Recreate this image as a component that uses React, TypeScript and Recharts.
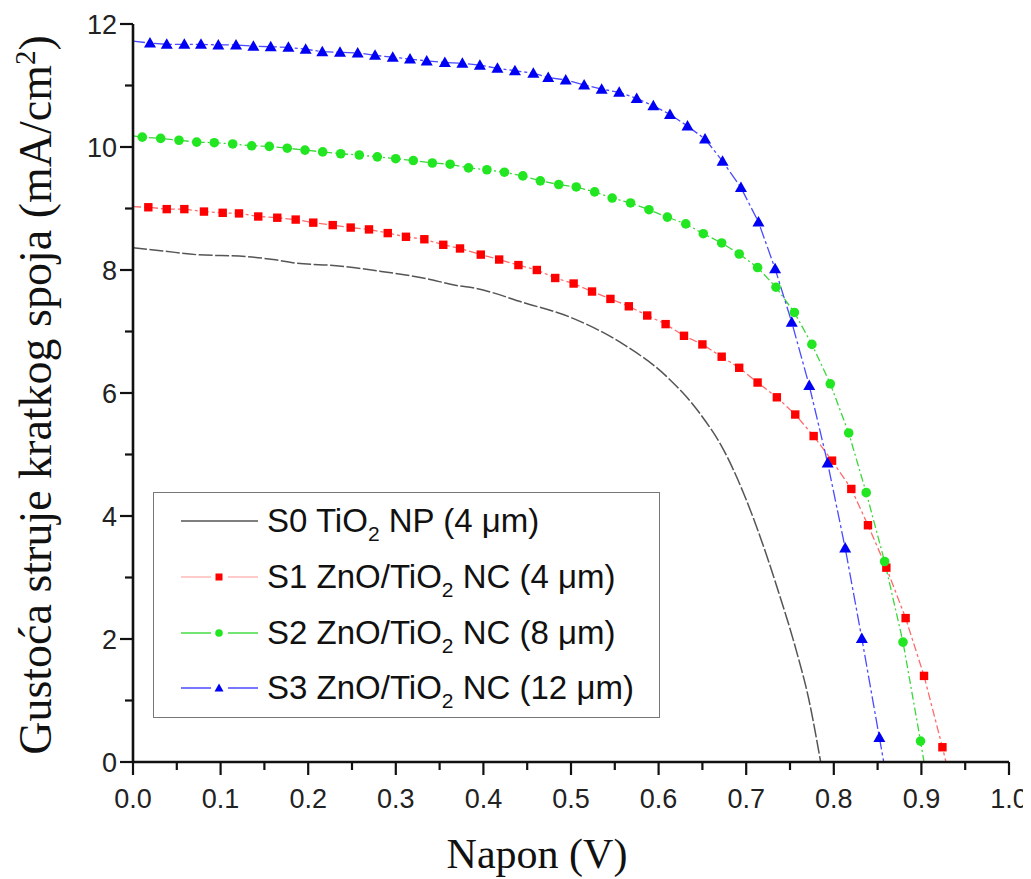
import React from 'react';
import { LineChart, Line, XAxis, YAxis, Legend } from 'recharts';

// ---- Data ----
const s0V = [0, 0.034, 0.072, 0.129, 0.16, 0.187, 0.232, 0.282, 0.331, 0.373, 0.388, 0.446, 0.503, 0.56, 0.609, 0.647, 0.674, 0.697, 0.716, 0.735, 0.758, 0.771, 0.785];
const s0J = [8.36, 8.31, 8.25, 8.22, 8.17, 8.11, 8.07, 7.98, 7.87, 7.74, 7.71, 7.47, 7.21, 6.79, 6.27, 5.67, 5.08, 4.37, 3.66, 2.85, 1.77, 1.05, 0];

const s1V = [0.0175, 0.0385, 0.0586, 0.081, 0.1024, 0.121, 0.143, 0.1647, 0.1857, 0.2058, 0.228, 0.2485, 0.2694, 0.2908, 0.3116, 0.3326, 0.3542, 0.3733, 0.397, 0.418, 0.44, 0.461, 0.482, 0.503, 0.524, 0.545, 0.566, 0.587, 0.608, 0.629, 0.65, 0.672, 0.692, 0.713, 0.735, 0.756, 0.777, 0.798, 0.82, 0.839, 0.86, 0.882, 0.903, 0.924];
const s1J = [9.02, 8.99, 8.99, 8.95, 8.93, 8.92, 8.87, 8.85, 8.82, 8.77, 8.73, 8.69, 8.66, 8.6, 8.54, 8.5, 8.41, 8.35, 8.25, 8.17, 8.08, 8.0, 7.87, 7.78, 7.65, 7.53, 7.41, 7.26, 7.12, 6.93, 6.79, 6.59, 6.41, 6.17, 5.93, 5.65, 5.3, 4.9, 4.44, 3.85, 3.16, 2.34, 1.4, 0.24];
const s1Ends = [[0, 9.03], [0.928, 0]];

const s2V = [0.0106, 0.0316, 0.0525, 0.0727, 0.0928, 0.1138, 0.1355, 0.1556, 0.1761, 0.1963, 0.2165, 0.2371, 0.2583, 0.2789, 0.2999, 0.32, 0.3417, 0.362, 0.383, 0.404, 0.424, 0.445, 0.465, 0.486, 0.506, 0.527, 0.547, 0.568, 0.589, 0.61, 0.631, 0.651, 0.672, 0.692, 0.713, 0.734, 0.755, 0.775, 0.796, 0.817, 0.837, 0.858, 0.879, 0.899];
const s2J = [10.16, 10.14, 10.11, 10.08, 10.07, 10.05, 10.02, 10.01, 9.98, 9.95, 9.92, 9.89, 9.87, 9.84, 9.81, 9.78, 9.74, 9.72, 9.66, 9.63, 9.59, 9.53, 9.45, 9.39, 9.35, 9.27, 9.17, 9.09, 8.98, 8.86, 8.75, 8.59, 8.44, 8.26, 8.04, 7.72, 7.31, 6.79, 6.15, 5.35, 4.38, 3.26, 1.95, 0.34];
const s2Ends = [[0, 10.18], [0.903, 0]];

const s3V = [0.0194, 0.0385, 0.0586, 0.0776, 0.0974, 0.1176, 0.1374, 0.1572, 0.1774, 0.1971, 0.2161, 0.2363, 0.2565, 0.2763, 0.2965, 0.3162, 0.3353, 0.356, 0.376, 0.396, 0.416, 0.436, 0.457, 0.474, 0.494, 0.515, 0.535, 0.555, 0.575, 0.594, 0.613, 0.633, 0.653, 0.673, 0.694, 0.714, 0.733, 0.752, 0.772, 0.793, 0.813, 0.832, 0.852];
const s3J = [11.69, 11.67, 11.67, 11.67, 11.66, 11.66, 11.64, 11.63, 11.62, 11.59, 11.55, 11.54, 11.53, 11.49, 11.46, 11.43, 11.4, 11.375, 11.36, 11.33, 11.28, 11.24, 11.2, 11.13, 11.09, 11.01, 10.94, 10.89, 10.79, 10.67, 10.53, 10.34, 10.13, 9.77, 9.34, 8.78, 8.02, 7.15, 6.12, 4.86, 3.48, 2.01, 0.4];
const s3Ends = [[0, 11.72], [0.857, 0]];

const xTicks = [0, 0.05, 0.1, 0.15, 0.2, 0.25, 0.3, 0.35, 0.4, 0.45, 0.5, 0.55, 0.6, 0.65, 0.7, 0.75, 0.8, 0.85, 0.9, 0.95, 1.0];
const yTicks = [0, 1, 2, 3, 4, 5, 6, 7, 8, 9, 10, 11, 12];

const seriesNames = ['S0 TiO|2| NP (4 μm)', 'S1 ZnO/TiO|2| NC (4 μm)', 'S2 ZnO/TiO|2| NC (8 μm)', 'S3 ZnO/TiO|2| NC (12 μm)'];

// ---- Build series tables ----
const buildMarked = (vs: number[], js: number[], ends: number[][]) => [
  { v: ends[0][0], j: ends[0][1], m: false },
  ...vs.map((v, i) => ({ v, j: js[i], m: true })),
  { v: ends[1][0], j: ends[1][1], m: false },
];
const s0Data = s0V.map((v, i) => ({ v, j: s0J[i] }));
const s1Data = buildMarked(s1V, s1J, s1Ends);
const s2Data = buildMarked(s2V, s2J, s2Ends);
const s3Data = buildMarked(s3V, s3J, s3Ends);

const SANS = '"Liberation Sans", Arial, sans-serif';
const SERIF = '"Liberation Serif", "Times New Roman", serif';
const AX = '#111';

const RED = '#ff0000';
const GREEN = '#22e622';
const BLUE = '#0000f5';

const squareDot = (p: any) =>
  p.payload && p.payload.m ? (
    <rect key={`s${p.index}`} x={p.cx - 4.2} y={p.cy - 4.2} width={8.4} height={8.4} fill={RED} />
  ) : (
    <g key={`s${p.index}`} />
  );
const circleDot = (p: any) =>
  p.payload && p.payload.m ? <circle key={`c${p.index}`} cx={p.cx} cy={p.cy} r={4.8} fill={GREEN} /> : <g key={`c${p.index}`} />;
const triDot = (p: any) =>
  p.payload && p.payload.m ? (
    <path key={`t${p.index}`} d={`M${p.cx},${p.cy - 6} L${p.cx + 6},${p.cy + 4.5} L${p.cx - 6},${p.cy + 4.5} Z`} fill={BLUE} />
  ) : (
    <g key={`t${p.index}`} />
  );

const isMajorX = (v: number) => Math.round(v * 100) % 10 === 0;
const isMajorY = (v: number) => Math.round(v) % 2 === 0;

const XTickBottom = (props: any) => {
  const { x, y, payload } = props;
  const v = payload.value;
  const major = isMajorX(v);
  return (
    <g>
      <line x1={x} x2={x} y1={y} y2={y + (major ? 13 : 8)} stroke={AX} strokeWidth={2.2} />
      {major && (
        <text x={x} y={y + 46} textAnchor="middle" fontSize={27} fontFamily={SANS} fill="#222">
          {v.toFixed(1)}
        </text>
      )}
    </g>
  );
};
const XTickTop = (props: any) => {
  const { x, y, payload } = props;
  const major = isMajorX(payload.value);
  return <line x1={x} x2={x} y1={y} y2={y + (major ? 14 : 8)} stroke={AX} strokeWidth={2.2} />;
};
const YTickLeft = (props: any) => {
  const { x, y, payload } = props;
  const v = payload.value;
  const major = isMajorY(v);
  return (
    <g>
      <line x1={x - (major ? 13 : 8)} x2={x} y1={y} y2={y} stroke={AX} strokeWidth={2.2} />
      {major && (
        <text x={x - 16} y={y + 10} textAnchor="end" fontSize={27} fontFamily={SANS} fill="#222">
          {String(v)}
        </text>
      )}
    </g>
  );
};
const YTickRight = (props: any) => {
  const { x, y, payload } = props;
  const major = isMajorY(payload.value);
  return <line x1={x - (major ? 14 : 8)} x2={x} y1={y} y2={y} stroke={AX} strokeWidth={2.2} />;
};

const XTitle = () => (
  <text x={529} y={860} textAnchor="middle" fontSize={42} fontFamily={SERIF} fill="#111">
    Napon (V)
  </text>
);
const YTitle = () => (
  <text x={43} y={387} textAnchor="middle" fontSize={46} fontFamily={SERIF} fill="#111" transform="rotate(-90 43 387)">
    <tspan>Gustoća struje kratkog spoja (mA/cm</tspan>
    <tspan dy={-16} fontSize={29}>2</tspan>
    <tspan dy={16}>)</tspan>
  </text>
);

const renderName = (name: string) => {
  const parts = name.split('|');
  return (
    <span>
      {parts[0]}
      <span style={{ fontSize: 21, position: 'relative', top: 9 }}>{parts[1]}</span>
      {parts[2]}
    </span>
  );
};

const LegendSample = ({ idx }: { idx: number }) => {
  if (idx === 0) {
    return (
      <svg width={110} height={40} style={{ position: 'absolute', left: 0, top: 0 }}>
        <line x1={27} x2={104} y1={20} y2={20} stroke="#555" strokeWidth={1.5} />
      </svg>
    );
  }
  const col = idx === 1 ? '#ffb8b8' : idx === 2 ? '#44dd44' : '#4848ff';
  return (
    <svg width={110} height={40} style={{ position: 'absolute', left: 0, top: 0 }}>
      <line x1={27} x2={57} y1={20} y2={20} stroke={col} strokeWidth={1.5} />
      <line x1={74} x2={104} y1={20} y2={20} stroke={col} strokeWidth={1.5} />
      {idx === 1 && <rect x={61.5} y={16.5} width={7} height={7} fill={RED} />}
      {idx === 2 && <circle cx={65} cy={20} r={3.8} fill={GREEN} />}
      {idx === 3 && <path d="M65,15.5 L69.5,23.5 L60.5,23.5 Z" fill={BLUE} />}
    </svg>
  );
};

const rowCenters = [28, 84, 139.5, 195];

const LegendBox = () => (
  <div
    style={{
      position: 'relative',
      width: 507,
      height: 226,
      border: '1.6px solid #777',
      boxSizing: 'border-box',
      background: '#fff',
      fontFamily: SANS,
      fontSize: 33,
      color: '#111',
    }}
  >
    {seriesNames.map((n, i) => (
      <div key={i} style={{ position: 'absolute', left: 0, top: rowCenters[i] - 20, height: 40, width: 505 }}>
        <LegendSample idx={i} />
        <div style={{ position: 'absolute', left: 113, top: 0, height: 40, lineHeight: '40px', whiteSpace: 'nowrap' }}>
          {renderName(n)}
        </div>
      </div>
    ))}
  </div>
);

export default function App() {
  return (
    <div style={{ width: 1023, height: 871, background: '#fff' }}>
      <LineChart width={1023} height={871} margin={{ top: 16, right: 22, bottom: 57, left: 65 }}>
        <XAxis
          dataKey="v"
          type="number"
          domain={[0, 1]}
          ticks={xTicks}
          interval={0}
          allowDataOverflow
          tickSize={0}
          tickMargin={0}
          tickLine={false}
          axisLine={{ stroke: AX, strokeWidth: 2.6 }}
          tick={<XTickBottom />}
          height={60}
          label={<XTitle />}
        />
        <XAxis
          xAxisId="top"
          orientation="top"
          dataKey="v"
          type="number"
          domain={[0, 1]}
          ticks={xTicks}
          interval={0}
          allowDataOverflow
          tickSize={0}
          tickMargin={0}
          tickLine={false}
          axisLine={{ stroke: AX, strokeWidth: 2.6 }}
          tick={<XTickTop />}
          height={0}
        />
        <YAxis
          type="number"
          domain={[0, 12]}
          ticks={yTicks}
          interval={0}
          allowDataOverflow
          tickSize={0}
          tickMargin={0}
          tickLine={false}
          axisLine={{ stroke: AX, strokeWidth: 2.6 }}
          tick={<YTickLeft />}
          width={60}
          label={<YTitle />}
        />
        <YAxis
          yAxisId="right"
          orientation="right"
          type="number"
          domain={[0, 12]}
          ticks={yTicks}
          interval={0}
          allowDataOverflow
          tickSize={0}
          tickMargin={0}
          tickLine={false}
          axisLine={{ stroke: AX, strokeWidth: 2.6 }}
          tick={<YTickRight />}
          width={0}
        />
        <Legend
          layout="horizontal"
          verticalAlign="middle"
          align="center"
          width={507}
          height={226}
          wrapperStyle={{ left: 145, top: 484, width: 507, height: 226 }}
          content={<LegendBox />}
        />
        <Line
          data={s0Data}
          dataKey="j"
          type="monotone"
          stroke="#555"
          strokeWidth={1.5}
          strokeDasharray="14 2.5"
          dot={false}
          isAnimationActive={false}
        />
        <Line
          data={s1Data}
          dataKey="j"
          type="linear"
          stroke="#ff6a6a"
          strokeWidth={1.3}
          strokeDasharray="8 3 3 3"
          dot={squareDot}
          activeDot={false}
          isAnimationActive={false}
        />
        <Line
          data={s2Data}
          dataKey="j"
          type="linear"
          stroke="#3ad83a"
          strokeWidth={1.3}
          strokeDasharray="8 3 2 3"
          dot={circleDot}
          activeDot={false}
          isAnimationActive={false}
        />
        <Line
          data={s3Data}
          dataKey="j"
          type="linear"
          stroke="#4a4aff"
          strokeWidth={1.3}
          strokeDasharray="12 3 3 3"
          dot={triDot}
          activeDot={false}
          isAnimationActive={false}
        />
      </LineChart>
    </div>
  );
}
